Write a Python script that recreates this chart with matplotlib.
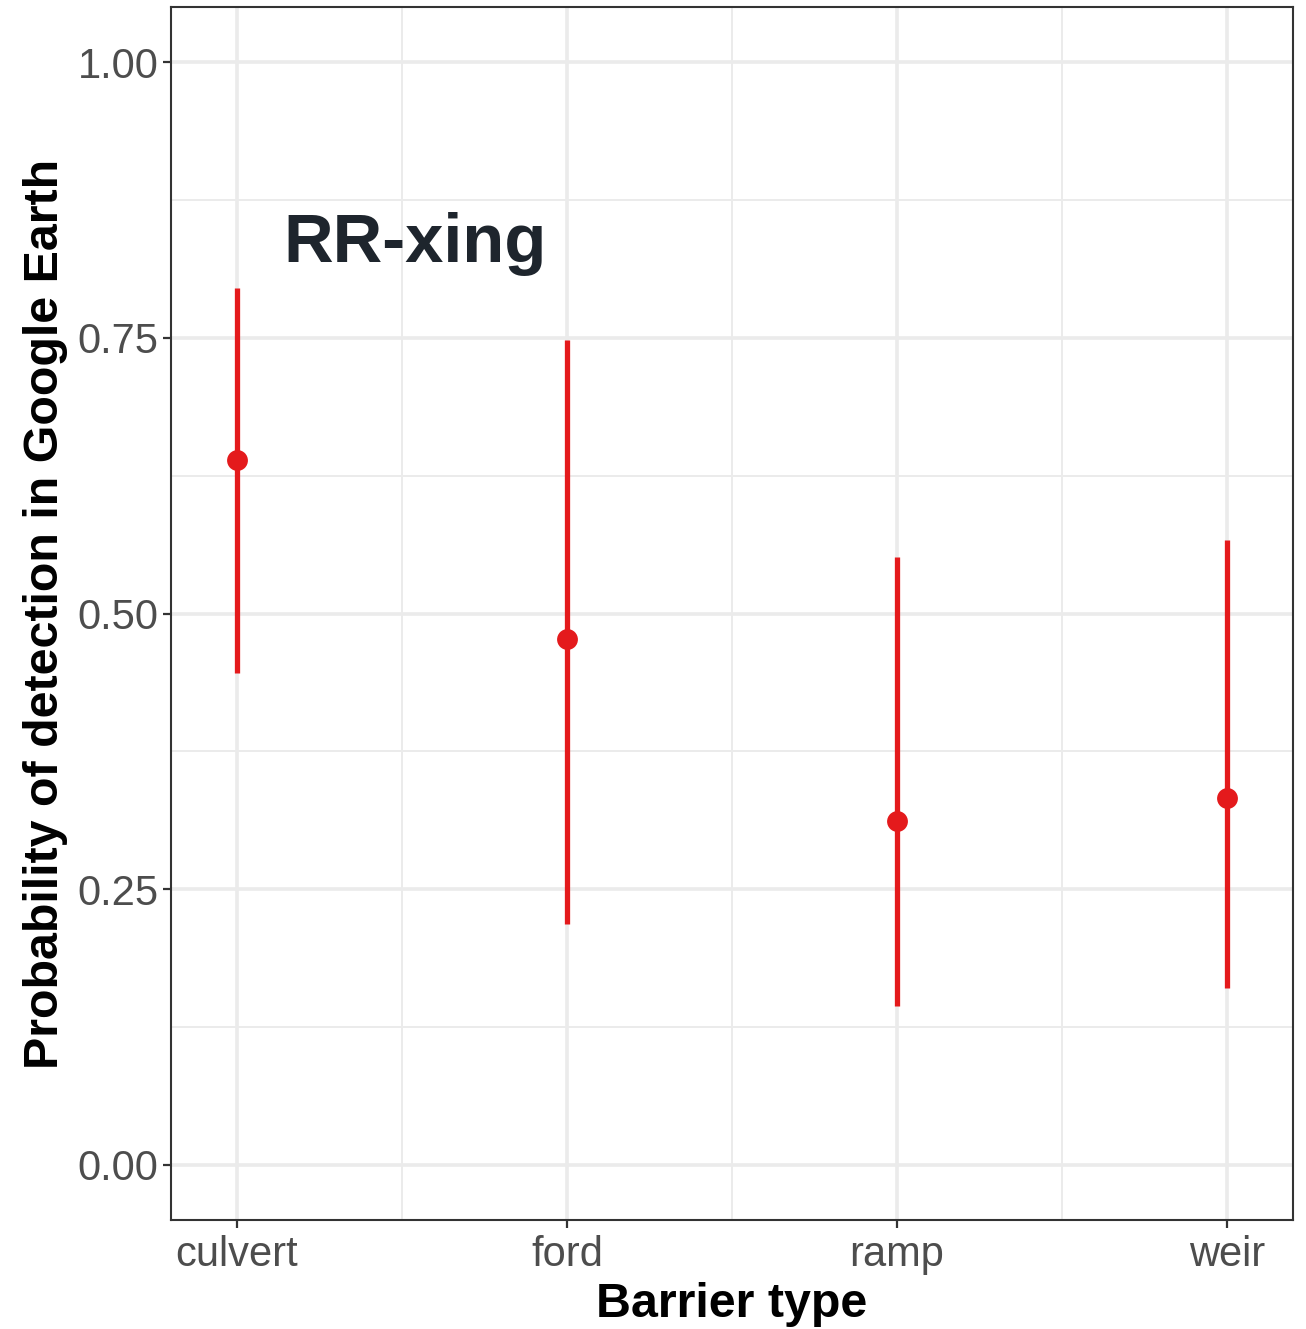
import numpy as np
import matplotlib.pyplot as plt
from matplotlib.ticker import MultipleLocator, FixedLocator

plt.rcParams['font.family'] = ['Liberation Sans', 'DejaVu Sans']

barreras = ['culvert', 'ford', 'ramp', 'weir']
prob = [0.639, 0.477, 0.312, 0.333]
inferior = [0.446, 0.218, 0.144, 0.160]
superior = [0.795, 0.748, 0.551, 0.567]

rojo = '#E41A1C'

fig = plt.figure(figsize=(13.06, 13.29), dpi=100)
ax = fig.add_axes([0.1309, 0.0820, 0.8591, 0.9127])

xs = np.arange(1, len(barreras) + 1)

# grid ggplot theme_bw
ax.set_axisbelow(True)
ax.xaxis.set_major_locator(FixedLocator(xs))
ax.xaxis.set_minor_locator(FixedLocator(xs[:-1] + 0.5))
ax.yaxis.set_major_locator(MultipleLocator(0.25))
ax.yaxis.set_minor_locator(MultipleLocator(0.125))
ax.grid(which='major', color='#EBEBEB', linewidth=2.6)
ax.grid(which='minor', color='#EBEBEB', linewidth=1.4)

ax.vlines(xs, inferior, superior, color=rojo, linewidth=3.8, zorder=3)
ax.plot(xs, prob, linestyle='None', marker='o', markersize=15,
        color=rojo, markeredgewidth=0, zorder=4)

ax.set_xlim(0.8, 4.2)
ax.set_ylim(-0.05, 1.05)
ax.set_xticks(xs)
ax.set_xticklabels(barreras)
ax.set_yticks([0, 0.25, 0.5, 0.75, 1.0])
ax.set_yticklabels(['0.00', '0.25', '0.50', '0.75', '1.00'])

ax.tick_params(which='major', length=6, width=1.6, color='#333333',
               labelsize=30, labelcolor='#4D4D4D', pad=3)
ax.tick_params(axis='x', which='major', pad=5)
ax.tick_params(which='minor', length=0)
for s in ax.spines.values():
    s.set_color('#333333')
    s.set_linewidth(1.5)

ax.set_xlabel('Barrier type', fontsize=34.8, fontweight='bold', labelpad=5)
ax.set_ylabel('Probability of detection in Google Earth', fontsize=34.8,
              fontweight='bold', labelpad=7)

ax.text(1.14, 0.835, 'RR-xing', fontsize=49.5, fontweight='bold',
        color='#1E252D', ha='left', va='center')

fig.savefig('out.png', dpi=100)
